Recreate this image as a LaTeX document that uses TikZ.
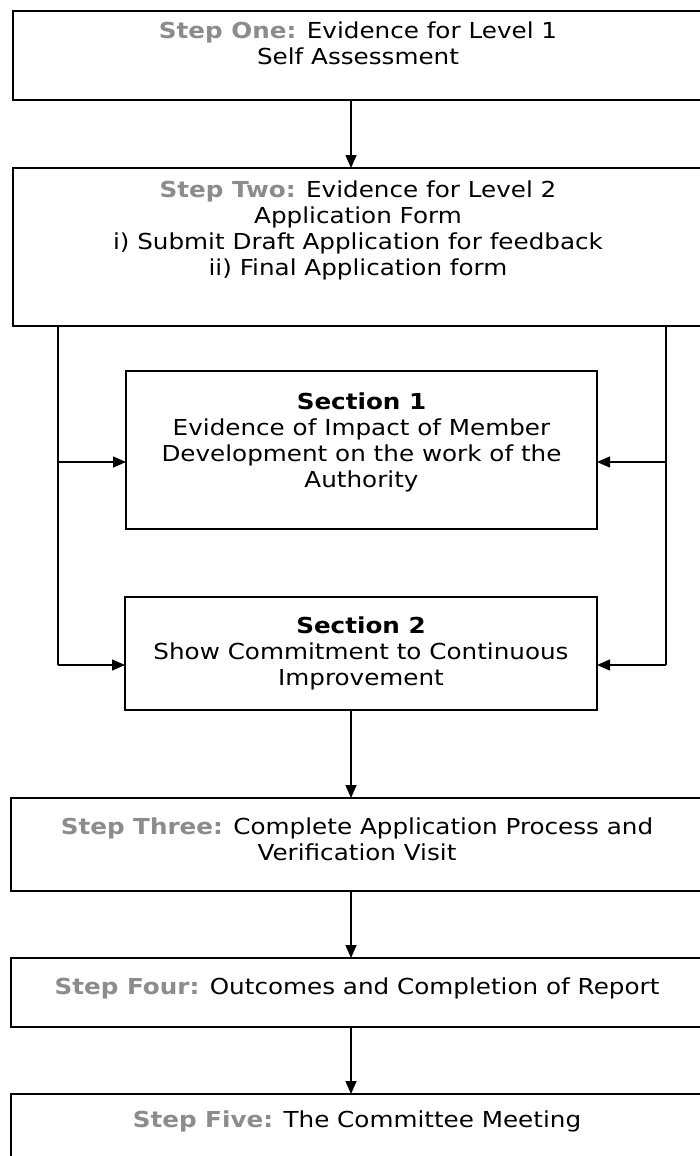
\documentclass[tikz,border=0pt]{standalone}
\usepackage{fontspec}
\setmainfont[FakeStretch=1.12]{DejaVu Sans}
\usetikzlibrary{arrows.meta}
\newcommand{\stepname}[1]{\textbf{\textcolor{black!45}{#1}}}
\newcommand{\boxtxt}[4]{\begin{minipage}[c][#1][t]{#2}\centering\vspace*{#3}#4\end{minipage}}
\begin{document}
\begin{tikzpicture}[x=1pt,y=-1pt,
  box/.style={draw=black, line width=1.6pt, inner sep=0pt, outer sep=0pt, font=\fontsize{22}{26}\selectfont},
  arr/.style={line width=1.4pt, -{Triangle[length=13pt,width=11pt]}},
  ln/.style={line width=1.4pt}]
\useasboundingbox (0,0) rectangle (700,1156);
\fill[white] (0,0) rectangle (700,1156);
\node[box] (b1) at (358,55.5) {\boxtxt{89pt}{690pt}{11pt}{\stepname{Step One:} Evidence for Level 1\\Self Assessment}};
\node[box] (b2) at (358,247) {\boxtxt{158pt}{690pt}{13pt}{\stepname{Step Two:} Evidence for Level 2\\Application Form\\i) Submit Draft Application for feedback\\ii) Final Application form}};
\node[box] (s1) at (361.5,450) {\boxtxt{158pt}{471pt}{22pt}{\textbf{Section 1}\\Evidence of Impact of Member\\Development on the work of the\\Authority}};
\node[box] (s2) at (361,653.5) {\boxtxt{113pt}{472pt}{20pt}{\textbf{Section 2}\\Show Commitment to Continuous\\Improvement}};
\node[box] (b3) at (357,844.5) {\boxtxt{93pt}{692pt}{20pt}{\stepname{Step Three:} Complete Application Process and\\Verification Visit}};
\node[box] (b4) at (357,992.5) {\boxtxt{69pt}{692pt}{20pt}{\stepname{Step Four:} Outcomes and Completion of Report}};
\node[box] (b5) at (357,1132) {\boxtxt{76pt}{692pt}{17pt}{\stepname{Step Five:} The Committee Meeting}};
\coordinate (ax) at (351,0);
\coordinate (lx) at (58,0);
\coordinate (rx) at (666,0);
\coordinate (s1in) at (0,462);
\coordinate (s2in) at (0,665);
\draw[arr] (b1.south -| ax) -- (b2.north -| ax);
\draw[ln] (b2.south -| lx) -- (lx |- s2in);
\draw[arr] (lx |- s2in) -- (s2.west |- s2in);
\draw[arr] (lx |- s1in) -- (s1.west |- s1in);
\draw[ln] (b2.south -| rx) -- (rx |- s2in);
\draw[arr] (rx |- s2in) -- (s2.east |- s2in);
\draw[arr] (rx |- s1in) -- (s1.east |- s1in);
\draw[arr] (s2.south -| ax) -- (b3.north -| ax);
\draw[arr] (b3.south -| ax) -- (b4.north -| ax);
\draw[arr] (b4.south -| ax) -- (b5.north -| ax);
\end{tikzpicture}
\end{document}
